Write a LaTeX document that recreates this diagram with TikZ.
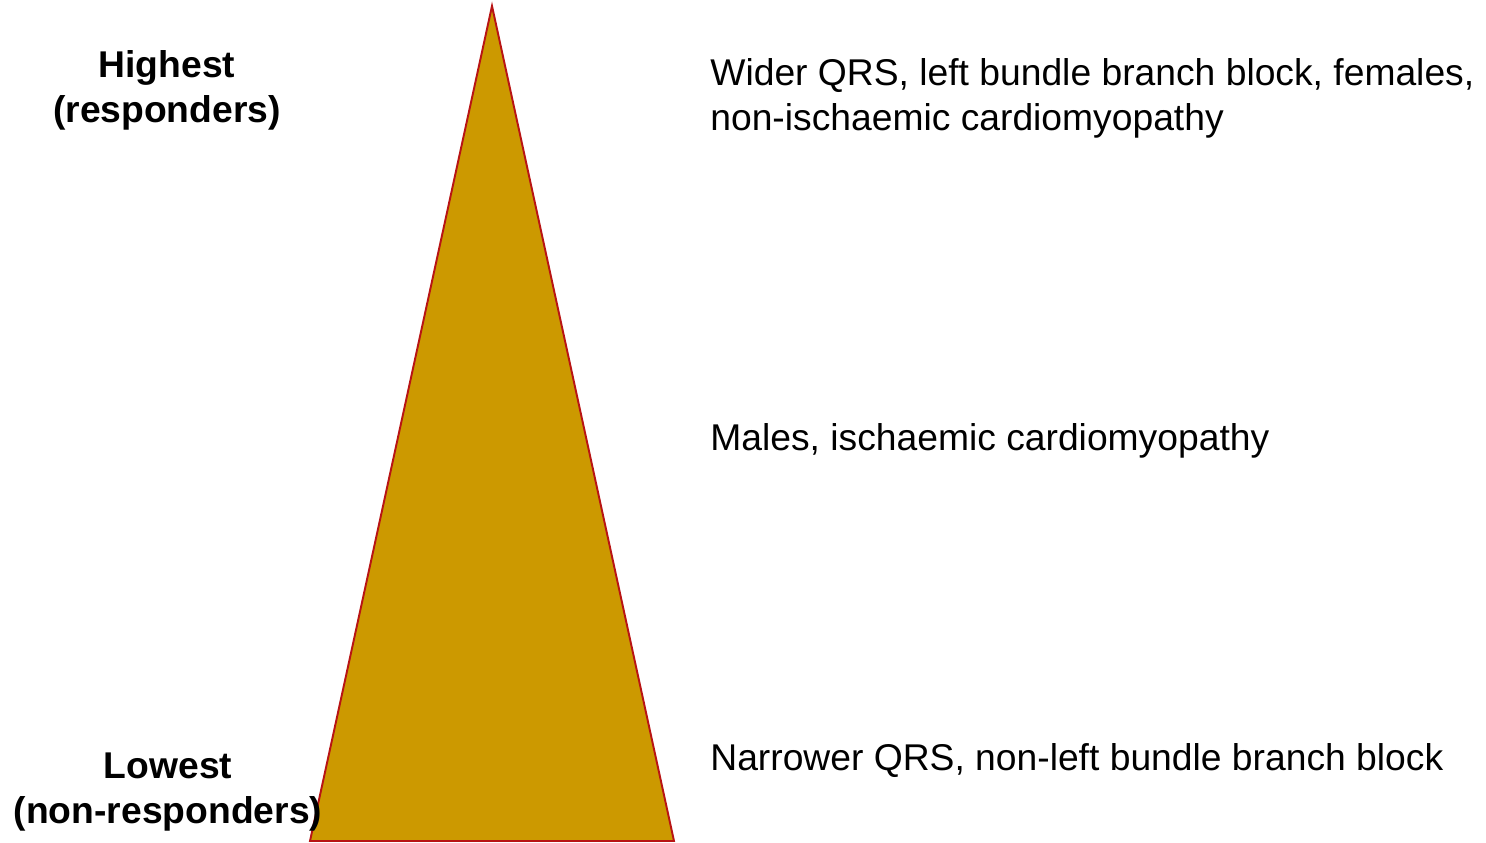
\documentclass[tikz,border=0pt]{standalone}
\usepackage{fontspec}
\setmainfont{Liberation Sans}
\definecolor{pyrfill}{HTML}{CC9900}
\definecolor{pyredge}{HTML}{B81414}
\begin{document}
\begin{tikzpicture}[
        x=0.02cm, y=-0.02cm,
        level/.style={font=\fontsize{21.2}{25.6}\selectfont\bfseries, align=center, inner sep=0pt},
        trait/.style={font=\fontsize{21.2}{25.6}\selectfont, align=left, inner sep=0pt, anchor=west},
        pyramid/.style={fill=pyrfill, draw=pyredge, line width=1.1pt, line join=miter}
    ]
        \useasboundingbox (0, 0) rectangle (1486, 842);

        % Triangle
        \coordinate (apex) at (492, 6);
        \coordinate (baseL) at (310, 841);
        \coordinate (baseR) at (674, 841);
        \draw[pyramid] (apex) -- (baseR) -- (baseL) -- cycle;

        % Levels
        \node[level] (high) at (167, 90) {Highest\\(responders)};
        \node[level] (low) at (168, 792) {Lowest\\(non-responders)};

        % Traits
        \node[trait] (wide) at (710, 98) {Wider QRS, left bundle branch block, females,\\non-ischaemic cardiomyopathy};
        \node[trait] (male) at (710, 441) {Males, ischaemic cardiomyopathy};
        \node[trait] (narrow) at (710, 761) {Narrower QRS, non-left bundle branch block};
    \end{tikzpicture}
\end{document}
